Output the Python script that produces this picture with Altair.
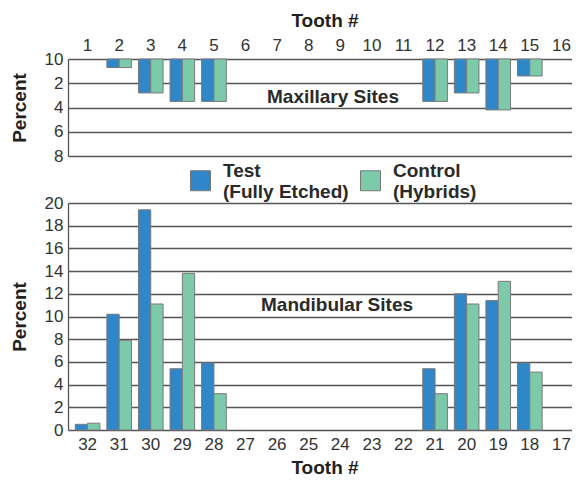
import altair as alt
import pandas as pd

upper_teeth = ["1", "2", "3", "4", "5", "6", "7", "8", "9", "10", "11", "12", "13", "14", "15", "16"]
upper_test = [0, 0.7, 2.8, 3.5, 3.5, 0, 0, 0, 0, 0, 0, 3.5, 2.8, 4.2, 1.4, 0]
upper_control = [0, 0.7, 2.8, 3.5, 3.5, 0, 0, 0, 0, 0, 0, 3.5, 2.8, 4.2, 1.4, 0]

lower_teeth = ["32", "31", "30", "29", "28", "27", "26", "25", "24", "23", "22", "21", "20", "19", "18", "17"]
lower_test = [0.5, 10.2, 19.4, 5.4, 5.9, 0, 0, 0, 0, 0, 0, 5.4, 12.0, 11.4, 5.9, 0]
lower_control = [0.6, 7.9, 11.1, 13.8, 3.2, 0, 0, 0, 0, 0, 0, 3.2, 11.1, 13.1, 5.1, 0]

series = ["Test", "Control"]
series_colors = ["#2f86c9", "#7dcaab"]

FONT = "Liberation Sans"
W = 513


def frame(teeth, test, control):
    rows = []
    for t, a, b in zip(teeth, test, control):
        if a > 0:
            rows.append({"tooth": t, "series": "Test", "value": a})
        if b > 0:
            rows.append({"tooth": t, "series": "Control", "value": b})
    return pd.DataFrame(rows)


up = frame(upper_teeth, upper_test, upper_control)
low = frame(lower_teeth, lower_test, lower_control)

xoff = alt.XOffset("series:N", sort=series,
                   scale=alt.Scale(domain=series, paddingInner=0, paddingOuter=0))

legend = alt.Legend(orient="none", legendX=122, legendY=101, direction="horizontal",
                    title=None, symbolType="M-1,0H1V2H-1Z", symbolSize=400,
                    symbolStrokeColor="#777777", symbolStrokeWidth=1,
                    labelFont=FONT, labelFontSize=19, labelFontWeight="bold",
                    labelColor="#2a2a2a", labelOffset=12, columnPadding=9, padding=0,
                    labelExpr="datum.label == 'Test' ? ['Test', '(Fully Etched)'] : ['Control', '(Hybrids)']")

color = alt.Color("series:N", sort=series,
                  scale=alt.Scale(domain=series, range=series_colors), legend=legend)

top_bars = alt.Chart(up).mark_bar(stroke="#7a7a7a", strokeWidth=1).encode(
    x=alt.X("tooth:N", sort=upper_teeth,
            scale=alt.Scale(domain=upper_teeth, paddingInner=0.22, paddingOuter=0.23),
            axis=alt.Axis(orient="top", title="Tooth #", labelAngle=0, ticks=False,
                          domain=False, labelPadding=5, titlePadding=6, grid=False)),
    xOffset=xoff,
    y=alt.Y("value:Q", scale=alt.Scale(domain=[0, 8], reverse=True, nice=False),
            axis=alt.Axis(values=[0, 2, 4, 6, 8], title="Percent",
                          labelExpr="datum.value == 0 ? '10' : datum.label",
                          ticks=False, labelPadding=5, titlePadding=15)),
    color=color,
)
top_text = alt.Chart(pd.DataFrame({"label": ["Maxillary Sites"]})).mark_text(
    font=FONT, fontSize=19, fontWeight="bold", color="#2a2a2a"
).encode(text="label:N", x=alt.value(265), y=alt.value(38))
top = alt.layer(top_bars, top_text).properties(width=W, height=97)

bot_bars = alt.Chart(low).mark_bar(stroke="#7a7a7a", strokeWidth=1).encode(
    x=alt.X("tooth:N", sort=lower_teeth,
            scale=alt.Scale(domain=lower_teeth, paddingInner=0.22, paddingOuter=0.23),
            axis=alt.Axis(orient="bottom", title="Tooth #", labelAngle=0, ticks=False,
                          domain=False, labelPadding=6, titlePadding=6, grid=False)),
    xOffset=xoff,
    y=alt.Y("value:Q", scale=alt.Scale(domain=[0, 20], nice=False),
            axis=alt.Axis(values=list(range(0, 21, 2)), title="Percent",
                          ticks=False, labelPadding=5, titlePadding=15)),
    color=color,
)
bot_text = alt.Chart(pd.DataFrame({"label": ["Mandibular Sites"]})).mark_text(
    font=FONT, fontSize=19, fontWeight="bold", color="#2a2a2a"
).encode(text="label:N", x=alt.value(269), y=alt.value(102))
bottom = alt.layer(bot_bars, bot_text).properties(width=W, height=227)

chart = alt.vconcat(top, bottom, spacing=47, bounds="flush").configure_view(
    stroke=None
).configure_axis(
    labelFont=FONT, labelFontSize=17, labelColor="#333333",
    titleFont=FONT, titleFontSize=19, titleFontWeight="bold", titleColor="#222222",
    gridColor="#555555", gridWidth=1.3, gridOpacity=1,
    domainColor="#555555", domainWidth=1.3,
).properties(padding={"left": 2, "top": 3, "right": -9, "bottom": 0})

chart.save("out.html", embed_options={"renderer": "svg", "actions": False})
